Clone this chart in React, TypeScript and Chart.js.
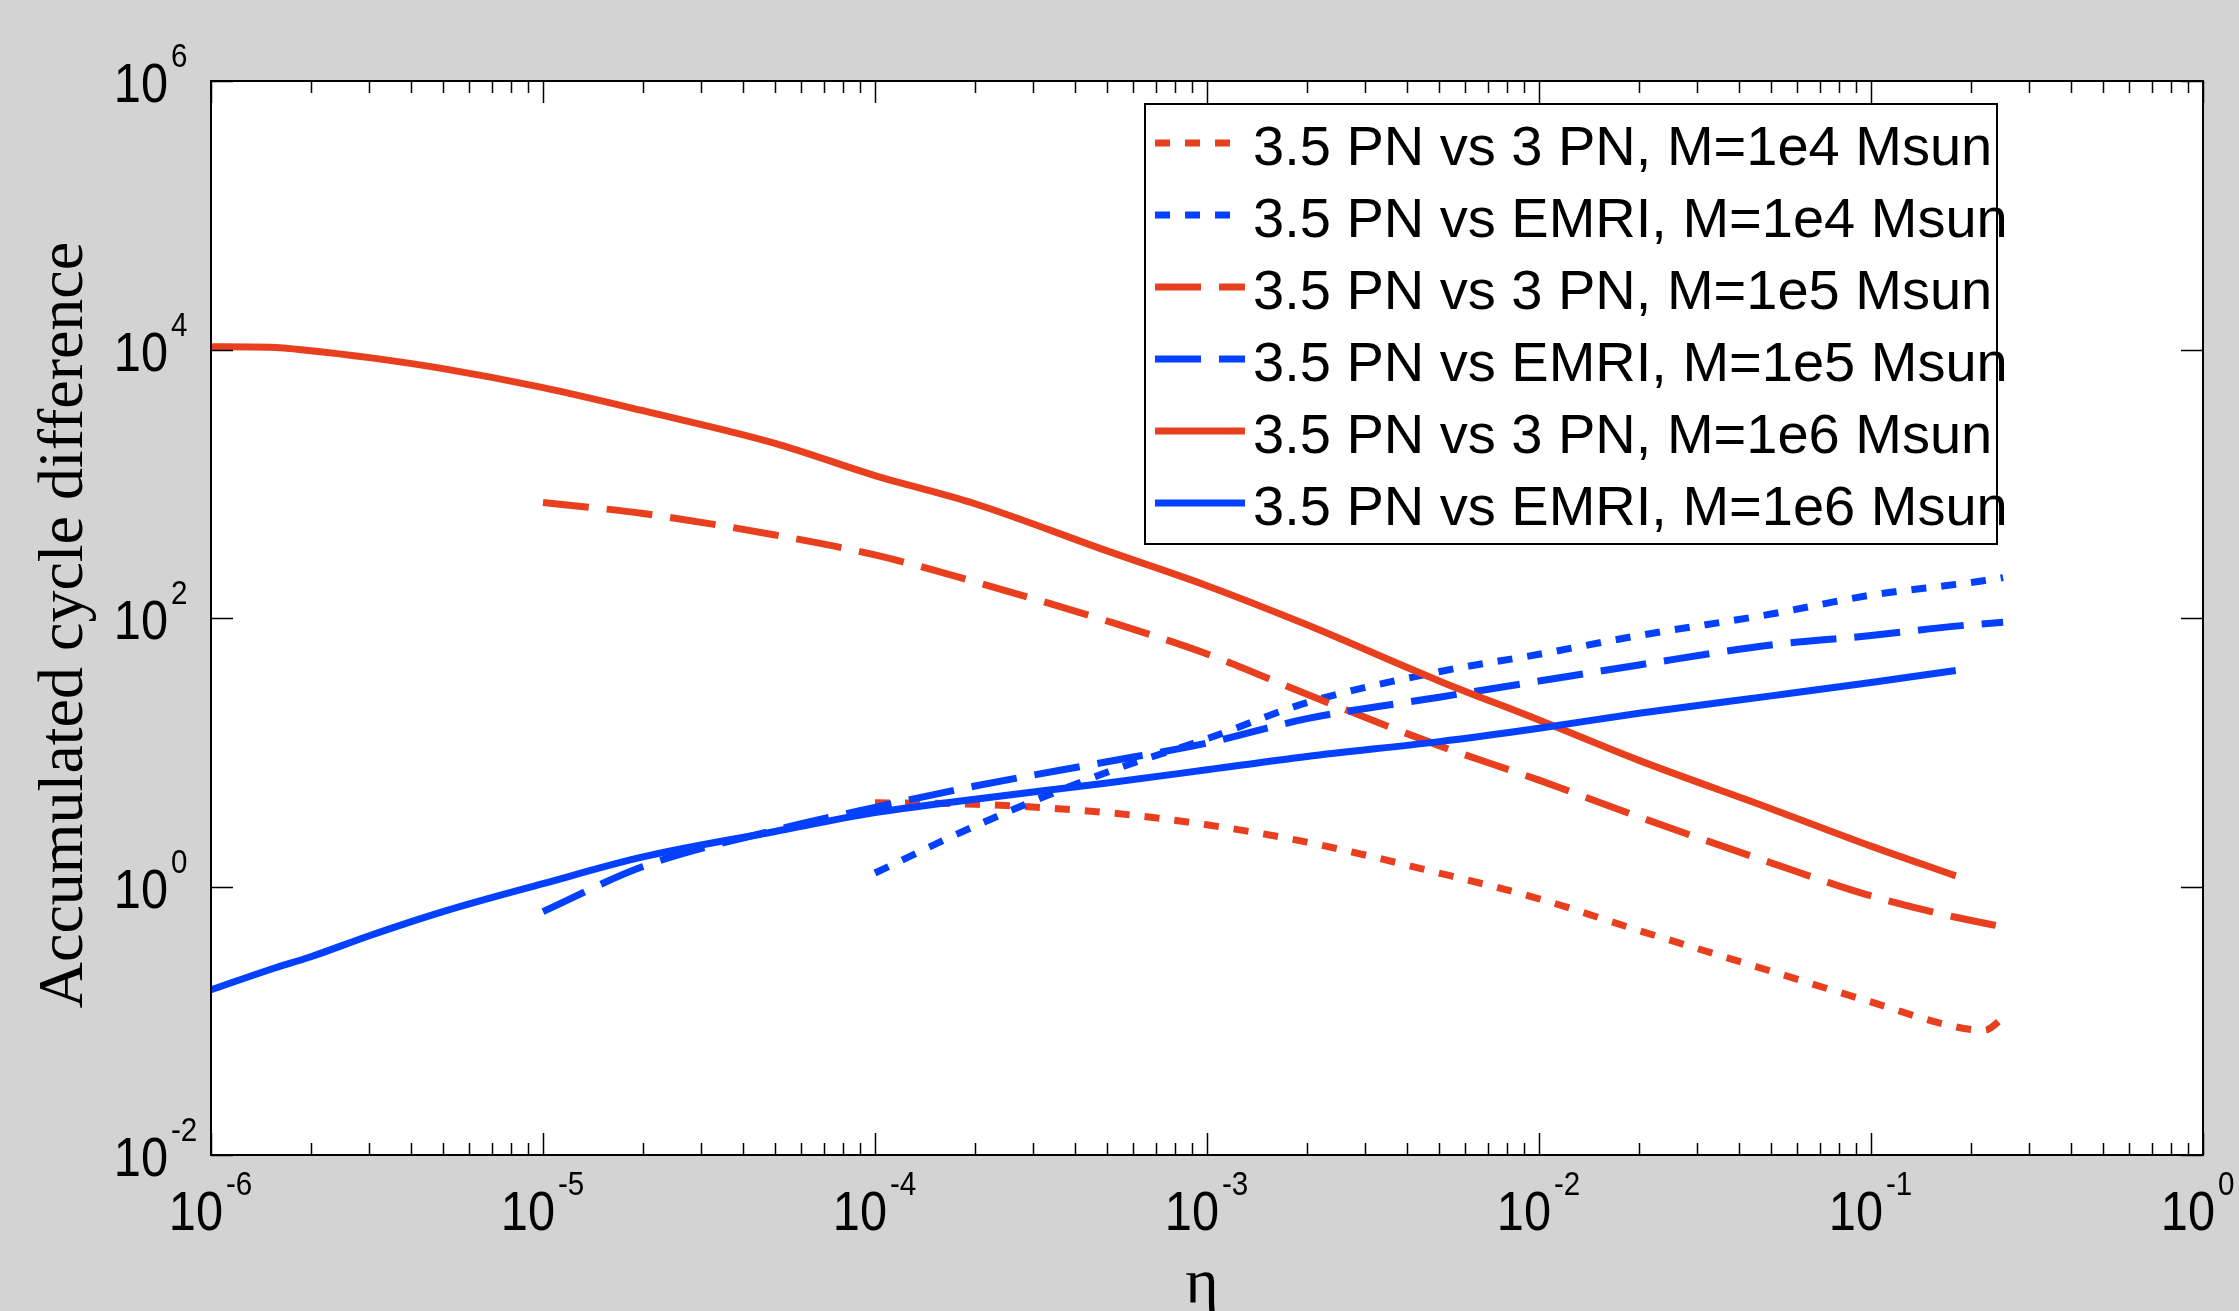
import React, { useEffect, useRef } from 'react';
import { Chart, registerables } from 'chart.js';

Chart.register(...registerables);

const W = 2239;
const H = 1311;

// eta grids per total mass
const etaM1e6 = [1e-6, 1.5e-6, 2e-6, 3e-6, 5e-6, 1e-5, 2e-5, 5e-5, 1e-4, 2e-4, 5e-4, 1e-3, 2e-3, 5e-3, 1e-2, 2e-2, 5e-2, 0.1, 0.18];
const etaM1e5 = [1e-5, 2e-5, 5e-5, 1e-4, 2e-4, 5e-4, 1e-3, 2e-3, 5e-3, 1e-2, 2e-2, 5e-2, 0.1, 0.18, 0.25];
const etaM1e4 = [1e-4, 2e-4, 5e-4, 1e-3, 2e-3, 5e-3, 1e-2, 2e-2, 5e-2, 0.1, 0.18, 0.22, 0.25];

// accumulated cycle differences
const pn3M1e4 = [4.2, 4.1, 3.55, 2.88, 2.14, 1.26, 0.81, 0.47, 0.234, 0.138, 0.09, 0.085, 0.105];
const emriM1e4 = [1.26, 2.82, 7.1, 12.6, 23.4, 39.8, 53.7, 74, 107, 148, 178, 190, 200];
const pn3M1e5 = [725, 600, 415, 295, 186, 95, 54, 27, 11.2, 6.2, 3.3, 1.5, 0.85, 0.59, 0.5];
const emriM1e5 = [0.65, 1.41, 2.63, 3.89, 5.6, 8.5, 11.7, 17.8, 25.7, 33.9, 44.7, 63, 74, 87, 93];
const pn3M1e6 = [1.05e4, 1.04e4, 9.8e3, 8.7e3, 7.2e3, 5.2e3, 3.5e3, 2.0e3, 1.15e3, 710, 316, 174, 89, 34, 17.4, 8.7, 3.8, 2.0, 1.2];
const emriM1e6 = [0.17, 0.24, 0.30, 0.43, 0.65, 1.05, 1.66, 2.57, 3.55, 4.47, 5.9, 7.4, 9.3, 12.0, 15.1, 19.5, 26.3, 33.1, 40.7];

const seriesLabels = [
  '3.5 PN vs 3 PN, M=1e4 Msun',
  '3.5 PN vs EMRI, M=1e4 Msun',
  '3.5 PN vs 3 PN, M=1e5 Msun',
  '3.5 PN vs EMRI, M=1e5 Msun',
  '3.5 PN vs 3 PN, M=1e6 Msun',
  '3.5 PN vs EMRI, M=1e6 Msun',
];

const xTickExponents = [-6, -5, -4, -3, -2, -1, 0];
const yTickExponents = [-2, 0, 2, 4, 6];
const xTitle = 'η';
const yTitle = 'Accumulated cycle difference';

const RED = '#e8401e';
const BLUE = '#0340ff';
const DOT = [15, 15];
const DASH = [46, 18];

const pts = (xs: number[], ys: number[]) => xs.map((x, i) => ({ x, y: ys[i] }));

const TICK_FONT = '56px "Liberation Sans", Arial, sans-serif';
const EXP_FONT = '34px "Liberation Sans", Arial, sans-serif';
const SQUEEZE = 0.87;

function squeezedText(ctx: CanvasRenderingContext2D, text: string, x: number, y: number, align: CanvasTextAlign, font: string) {
  ctx.save();
  ctx.font = font;
  ctx.textAlign = align;
  ctx.textBaseline = 'alphabetic';
  ctx.translate(x, y);
  ctx.scale(SQUEEZE, 1);
  ctx.fillText(text, 0, 0);
  ctx.restore();
}

const decoPlugin = {
  id: 'deco',
  beforeDraw(chart: any) {
    const { ctx, chartArea: a } = chart;
    ctx.save();
    ctx.fillStyle = '#d3d3d3';
    ctx.fillRect(0, 0, chart.width, chart.height);
    ctx.fillStyle = '#ffffff';
    ctx.fillRect(a.left, a.top, a.right - a.left, a.bottom - a.top);
    ctx.restore();
  },
  afterDatasetsDraw(chart: any) {
    const { ctx, chartArea: a } = chart;
    const xs = chart.scales.x;
    const ys = chart.scales.y;
    ctx.save();
    ctx.strokeStyle = '#000';
    ctx.fillStyle = '#000';

    // ticks (inward)
    ctx.lineWidth = 1.5;
    ctx.beginPath();
    for (let i = 0; i < xTickExponents.length; i++) {
      const e = xTickExponents[i];
      const px = Math.round(xs.getPixelForValue(Math.pow(10, e))) + 0.5;
      ctx.moveTo(px, a.bottom); ctx.lineTo(px, a.bottom - 22);
      ctx.moveTo(px, a.top); ctx.lineTo(px, a.top + 22);
      if (i < xTickExponents.length - 1) {
        for (let m = 2; m <= 9; m++) {
          const mx = Math.round(xs.getPixelForValue(m * Math.pow(10, e))) + 0.5;
          ctx.moveTo(mx, a.bottom); ctx.lineTo(mx, a.bottom - 12);
          ctx.moveTo(mx, a.top); ctx.lineTo(mx, a.top + 12);
        }
      }
    }
    for (const e of yTickExponents) {
      const py = Math.round(ys.getPixelForValue(Math.pow(10, e))) + 0.5;
      ctx.moveTo(a.left, py); ctx.lineTo(a.left + 22, py);
      ctx.moveTo(a.right, py); ctx.lineTo(a.right - 22, py);
    }
    ctx.stroke();

    // box
    ctx.lineWidth = 2;
    ctx.strokeRect(a.left, a.top, a.right - a.left, a.bottom - a.top);

    // tick labels
    for (const e of xTickExponents) {
      const px = xs.getPixelForValue(Math.pow(10, e));
      squeezedText(ctx, '10', px + 12, a.bottom + 75, 'right', TICK_FONT);
      squeezedText(ctx, String(e), px + 15, a.bottom + 40, 'left', EXP_FONT);
    }
    for (const e of yTickExponents) {
      const py = ys.getPixelForValue(Math.pow(10, e));
      squeezedText(ctx, '10', a.left - 43, py + 21, 'right', TICK_FONT);
      squeezedText(ctx, String(e), a.left - 40, py - 14, 'left', EXP_FONT);
    }

    // axis titles
    ctx.font = '64px "Liberation Serif", "Times New Roman", serif';
    ctx.textBaseline = 'alphabetic';
    ctx.textAlign = 'center';
    ctx.fillText(xTitle, (a.left + a.right) / 2 - 5, 1302);
    ctx.save();
    ctx.translate(82, 625);
    ctx.rotate(-Math.PI / 2);
    ctx.fillText(yTitle, 0, 0);
    ctx.restore();

    // legend
    const lx = 1145, ly = 104, lw = 852, lh = 440;
    ctx.fillStyle = '#fff';
    ctx.fillRect(lx, ly, lw, lh);
    ctx.lineWidth = 2;
    ctx.strokeStyle = '#000';
    ctx.strokeRect(lx, ly, lw, lh);
    const dsets = chart.data.datasets;
    for (let i = 0; i < dsets.length; i++) {
      const ds = dsets[i];
      const ry = 143 + i * 72;
      ctx.save();
      ctx.strokeStyle = ds.borderColor;
      ctx.lineWidth = ds.borderWidth;
      ctx.lineCap = 'butt';
      ctx.setLineDash(ds.borderDash || []);
      ctx.beginPath();
      ctx.moveTo(1155, ry);
      ctx.lineTo(1245, ry);
      ctx.stroke();
      ctx.restore();
      ctx.fillStyle = '#000';
      ctx.font = '56px "Liberation Sans", Arial, sans-serif';
      ctx.textAlign = 'left';
      ctx.textBaseline = 'alphabetic';
      ctx.fillText(ds.label, 1253, ry + 22);
    }
    ctx.restore();
  },
};

export default function App() {
  const ref = useRef<HTMLCanvasElement | null>(null);
  useEffect(() => {
    if (!ref.current) return;
    const mk = (i: number, xs: number[], ys: number[], color: string, dash: number[], order: number) => ({
      label: seriesLabels[i],
      data: pts(xs, ys),
      borderColor: color,
      backgroundColor: color,
      borderWidth: 7,
      borderDash: dash,
      borderCapStyle: 'butt' as const,
      pointRadius: 0,
      fill: false,
      cubicInterpolationMode: 'monotone' as const,
      order,
    });
    const chart = new Chart(ref.current, {
      type: 'line',
      data: {
        datasets: [
          mk(0, etaM1e4, pn3M1e4, RED, DOT, 6),
          mk(1, etaM1e4, emriM1e4, BLUE, DOT, 5),
          mk(2, etaM1e5, pn3M1e5, RED, DASH, 4),
          mk(3, etaM1e5, emriM1e5, BLUE, DASH, 3),
          mk(4, etaM1e6, pn3M1e6, RED, [], 2),
          mk(5, etaM1e6, emriM1e6, BLUE, [], 1),
        ],
      },
      options: {
        responsive: false,
        animation: false,
        devicePixelRatio: 1,
        layout: { padding: { left: 211, top: 81, right: 36, bottom: 156 } },
        plugins: { legend: { display: false }, tooltip: { enabled: false }, title: { display: false } },
        scales: {
          x: { type: 'logarithmic', min: 1e-6, max: 1, display: false },
          y: { type: 'logarithmic', min: 1e-2, max: 1e6, display: false },
        },
      },
      plugins: [decoPlugin],
    });
    return () => chart.destroy();
  }, []);
  return (
    <div style={{ position: 'fixed', left: 0, top: 0, width: W, height: H, background: '#d3d3d3' }}>
      <canvas ref={ref} width={W} height={H} style={{ display: 'block', width: W, height: H }} />
    </div>
  );
}
